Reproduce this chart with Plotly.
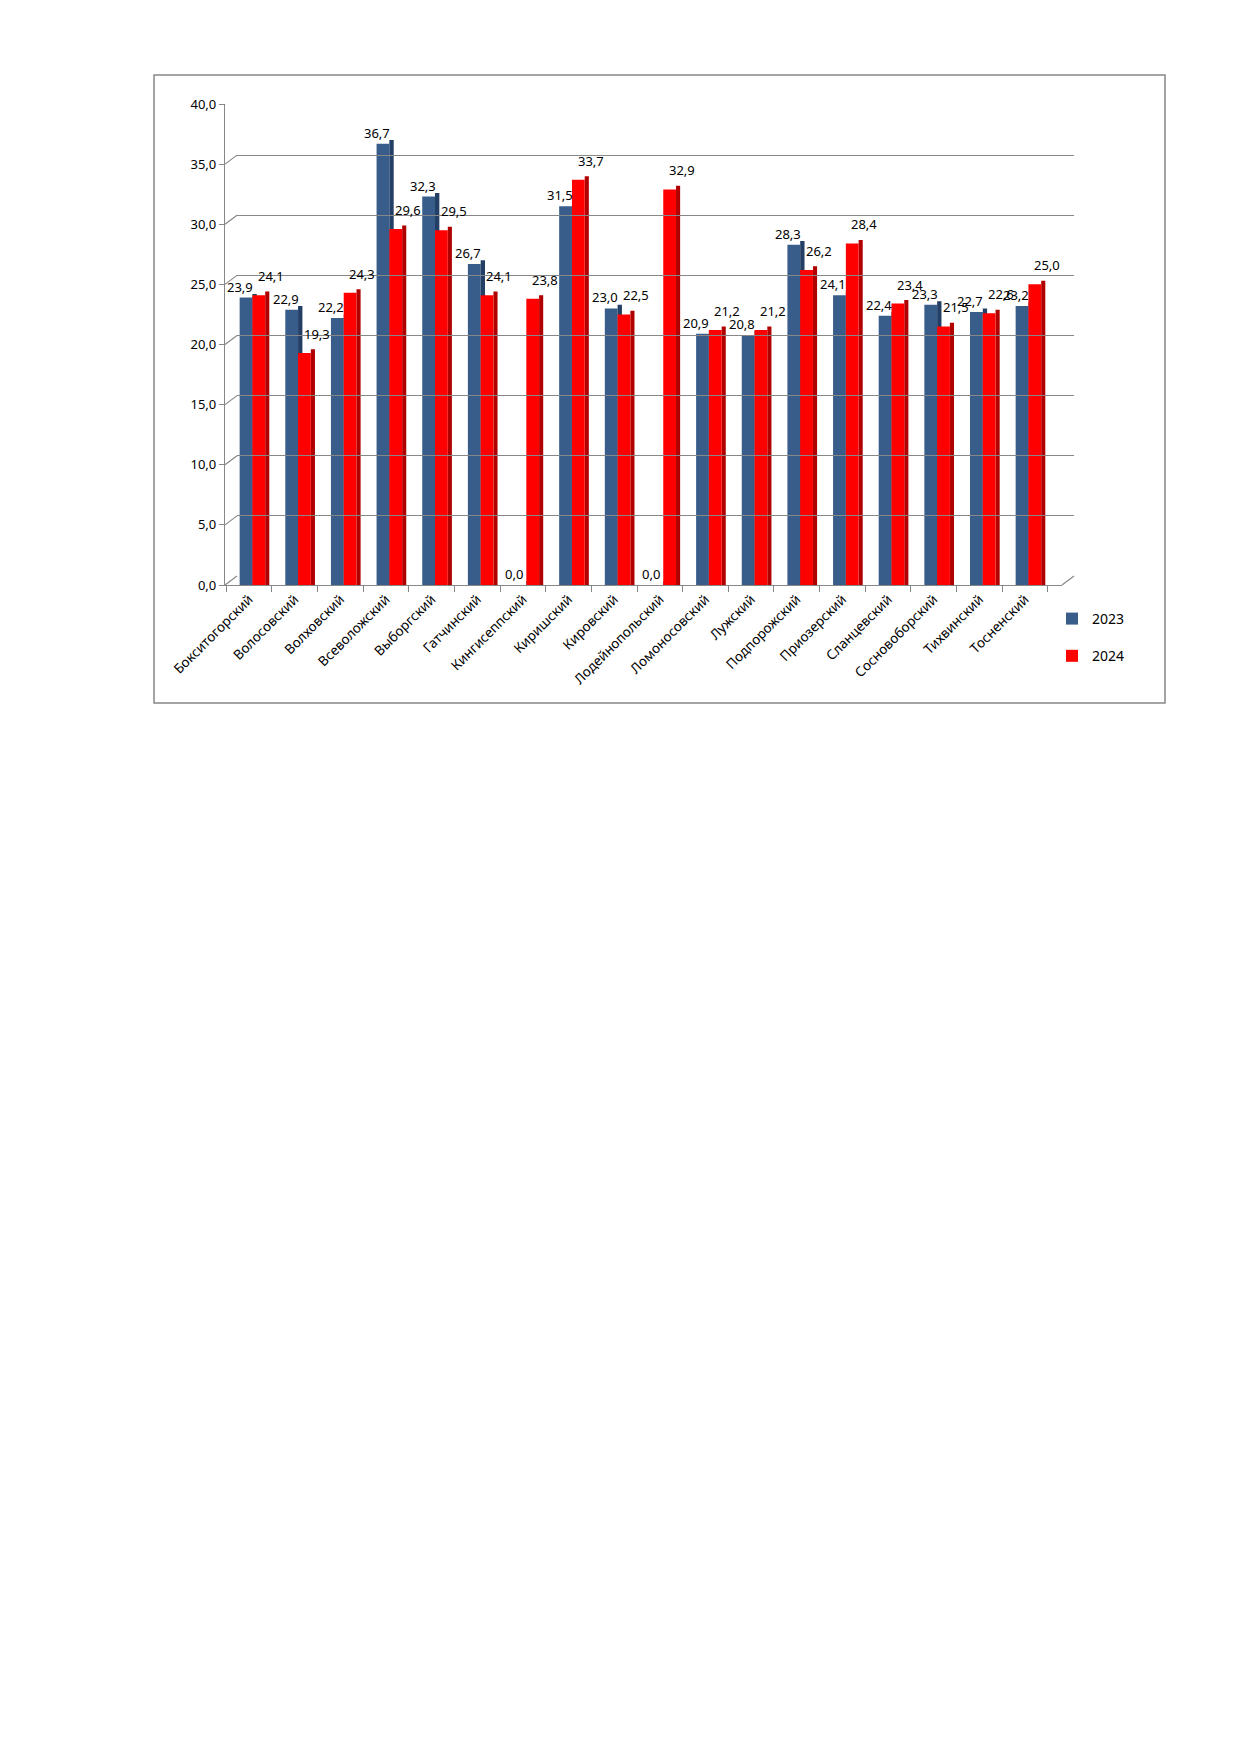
import plotly.graph_objects as go

# районы и значения показателя (по подписям на диаграмме)
rayony = [
    "Бокситогорский", "Волосовский", "Волховский", "Всеволожский", "Выборгский",
    "Гатчинский", "Кингисеппский", "Киришский", "Кировский", "Лодейнопольский",
    "Ломоносовский", "Лужский", "Подпорожский", "Приозерский", "Сланцевский",
    "Сосновоборский", "Тихвинский", "Тосненский",
]
znach_2023 = [23.9, 22.9, 22.2, 36.7, 32.3, 26.7, 0.0, 31.5, 23.0, 0.0,
              20.9, 20.8, 28.3, 24.1, 22.4, 23.3, 22.7, 23.2]
znach_2024 = [24.1, 19.3, 24.3, 29.6, 29.5, 24.1, 23.8, 33.7, 22.5, 32.9,
              21.2, 21.2, 26.2, 28.4, 23.4, 21.5, 22.6, 25.0]
god_1 = "2023"
god_2 = "2024"
y_ticks = [0, 5, 10, 15, 20, 25, 30, 35, 40]

# страница 1240x1754, у body отступ 8 px
OTSTUP = 8
W, H = 1240 - 2 * OTSTUP, 1754 - 2 * OTSTUP
FONT = "Noto Sans"
GRAY = "#878787"
SINIY, SINIY_BOK = "#385D8A", "#243F66"
KRASNY, KRASNY_BOK = "#FF0000", "#B00000"
GLUB = 0.3  # "глубина" объёмных столбиков, в единицах оси


def px_x(p):
    return (p - OTSTUP) / W


def px_y(p):
    return 1 - (p - OTSTUP) / H


def fmt(v):
    return f"{v:.1f}".replace(".", ",")


fig = go.Figure()

# передние грани и боковые грани столбиков
fig.add_trace(go.Bar(x=rayony, y=znach_2023, name=god_1, marker_color=SINIY,
                     offset=-0.205, width=0.28, legendgroup="a"))
fig.add_trace(go.Bar(x=rayony, y=[v + GLUB for v in znach_2023], marker_color=SINIY_BOK,
                     offset=0.075, width=0.095, showlegend=False, legendgroup="a"))
fig.add_trace(go.Bar(x=rayony, y=[v + GLUB for v in znach_2024], marker_color=KRASNY_BOK,
                     offset=0.355, width=0.09, showlegend=False, legendgroup="b"))
fig.add_trace(go.Bar(x=rayony, y=znach_2024, name=god_2, marker_color=KRASNY,
                     offset=0.075, width=0.28, legendgroup="b"))
for tr in fig.data:
    tr.marker.line.width = 0
    tr.hoverinfo = "skip"

# пустой след для задней стенки с сеткой
fig.add_trace(go.Scatter(x=[None], y=[None], xaxis="x2", yaxis="y2",
                         showlegend=False, hoverinfo="skip"))

# подписи данных
for r, v in zip(rayony, znach_2023):
    fig.add_annotation(x=r, y=v, text=fmt(v), showarrow=False, xshift=-9, yshift=11,
                       yanchor="middle", font=dict(family=FONT, size=13, color="#000"))
for r, v in zip(rayony, znach_2024):
    fig.add_annotation(x=r, y=v, text=fmt(v), showarrow=False, xshift=22, yshift=19,
                       yanchor="middle", font=dict(family=FONT, size=13, color="#000"))

# диагонали от передней оси к задней стенке
for t in y_ticks:
    fig.add_shape(type="line", xref="paper", yref="y", x0=px_x(225), x1=px_x(237),
                  y0=t, y1=t + 9 / 12.03, line=dict(color=GRAY, width=1.2))
fig.add_shape(type="line", xref="paper", yref="paper", x0=px_x(1062), x1=px_x(1074),
              y0=px_y(585), y1=px_y(576), line=dict(color=GRAY, width=1.2))

# рамка диаграммы
fig.add_shape(type="rect", xref="paper", yref="paper", x0=px_x(154), x1=px_x(1165),
              y0=px_y(703), y1=px_y(75), line=dict(color=GRAY, width=1.5))

fig.update_layout(
    template="none",
    width=W, height=H,
    margin=dict(l=0, r=0, t=0, b=0, pad=0, autoexpand=False),
    paper_bgcolor="white", plot_bgcolor="rgba(0,0,0,0)",
    barmode="overlay",
    separators=", ",
    font=dict(family=FONT, size=13, color="#000"),
    xaxis=dict(domain=[px_x(225), px_x(1062)], showgrid=False, showline=True,
               linecolor=GRAY, linewidth=1.2, ticks="outside", tickson="boundaries",
               ticklen=6, tickcolor=GRAY, tickangle=-45, automargin=False,
               tickfont=dict(family=FONT, size=13.5), fixedrange=True),
    yaxis=dict(domain=[px_y(585), px_y(104)], range=[0, 40], tickvals=y_ticks,
               tickformat=".1f", showgrid=False, zeroline=False, showline=True,
               linecolor=GRAY, linewidth=1.2, ticks="outside", ticklen=5,
               automargin=False, tickcolor=GRAY,
               tickfont=dict(family=FONT, size=13), fixedrange=True),
    xaxis2=dict(domain=[px_x(237), px_x(1074)], anchor="y2", range=[0, 1],
                visible=False, showgrid=False, zeroline=False, automargin=False),
    yaxis2=dict(domain=[px_y(576), px_y(95)], anchor="x2", range=[0, 40],
                tickvals=y_ticks, showticklabels=False, showgrid=True,
                gridcolor=GRAY, gridwidth=1.3, zeroline=False, showline=False,
                ticks="", automargin=False),
    legend=dict(x=px_x(1052), y=px_y(603), xanchor="left", yanchor="top",
                tracegroupgap=16, font=dict(family=FONT, size=14),
                itemwidth=30, bgcolor="rgba(0,0,0,0)"),
    showlegend=True,
)

fig.write_html("out.html")
